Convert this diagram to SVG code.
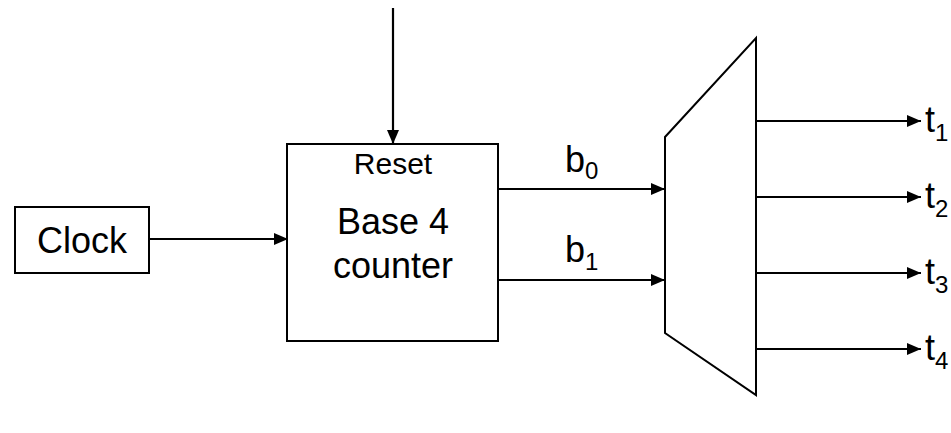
<svg xmlns="http://www.w3.org/2000/svg" width="951" height="433" viewBox="0 0 951 433">
<defs>
<marker id="ah" markerUnits="userSpaceOnUse" markerWidth="16" markerHeight="12" refX="14" refY="6" orient="auto">
<path d="M0,0 L14,6 L0,12 Z" fill="#000"/>
</marker>
<style>
.box{fill:#fff;stroke:#000;stroke-width:2}
.ln{fill:none;stroke:#000;stroke-width:2.2;marker-end:url(#ah)}
text{font-family:"Liberation Sans",Arial,sans-serif;fill:#000}
</style>
</defs>
<rect width="951" height="433" fill="#fff"/>
<g id="clock">
<rect class="box" x="15" y="207" width="134" height="66"/>
<text x="82" y="253" font-size="36" text-anchor="middle">Clock</text>
</g>
<g id="counter">
<rect class="box" x="287" y="144" width="211" height="197"/>
<text x="393" y="174" font-size="30" text-anchor="middle">Reset</text>
<text x="393" y="234" font-size="36" text-anchor="middle">Base 4</text>
<text x="393" y="278" font-size="36" text-anchor="middle">counter</text>
</g>
<g id="mux">
<polygon class="box" points="665,137 756,38 756,395 665,333"/>
</g>
<g id="connectors">
<line class="ln" x1="393" y1="8" x2="393" y2="144"/>
<line class="ln" x1="149" y1="239" x2="288" y2="239"/>
<line class="ln" x1="498" y1="189" x2="665" y2="189"/>
<line class="ln" x1="498" y1="280" x2="665" y2="280"/>
<line class="ln" x1="756" y1="121" x2="921" y2="121"/>
<line class="ln" x1="756" y1="197" x2="921" y2="197"/>
<line class="ln" x1="756" y1="273" x2="921" y2="273"/>
<line class="ln" x1="756" y1="349" x2="921" y2="349"/>
</g>
<g id="labels">
<text x="565" y="172" font-size="36">b<tspan font-size="24" dy="7">0</tspan></text>
<text x="565" y="262" font-size="36">b<tspan font-size="24" dy="8">1</tspan></text>
<text x="925" y="132" font-size="36">t<tspan font-size="24" dy="9">1</tspan></text>
<text x="925" y="208" font-size="36">t<tspan font-size="24" dy="9">2</tspan></text>
<text x="925" y="284" font-size="36">t<tspan font-size="24" dy="9">3</tspan></text>
<text x="925" y="360" font-size="36">t<tspan font-size="24" dy="9">4</tspan></text>
</g>
</svg>
